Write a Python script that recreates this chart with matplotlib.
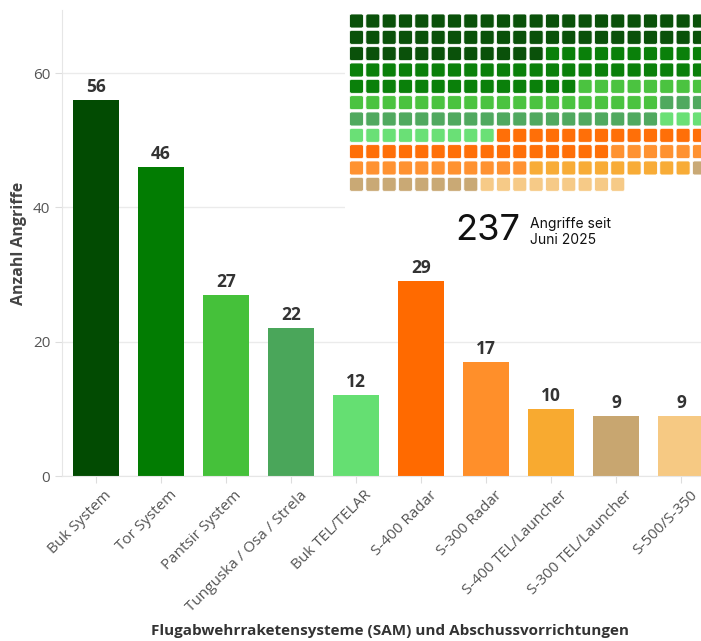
import matplotlib.pyplot as plt
from matplotlib.patches import FancyBboxPatch
from matplotlib import transforms

plt.rcParams['font.family'] = ['Open Sans', 'DejaVu Sans']

categories = [
    'Buk System', 'Tor System', 'Pantsir System', 'Tunguska / Osa / Strela',
    'Buk TEL/TELAR', 'S-400 Radar', 'S-300 Radar', 'S-400 TEL/Launcher',
    'S-300 TEL/Launcher', 'S-500/S-350',
]
counts = [56, 46, 27, 22, 12, 29, 17, 10, 9, 9]
colors = [
    '#024b02', '#027c02', '#45c13a', '#4aa65a', '#65df72',
    '#ff6a00', '#ff8f2a', '#f8aa30', '#c8a670', '#f6c983',
]
total_label = '237'
subtitle = 'Angriffe seit\nJuni 2025'
y_ticks = [0, 20, 40, 60]

W, H = 701, 641
fig = plt.figure(figsize=(W / 100, H / 100), dpi=100)

# main bar chart (extends a little past the right edge, like the source)
ax = fig.add_axes([62 / W, 165 / H, 653 / W, 466 / H])
x = list(range(len(categories)))
ax.bar(x, counts, width=0.71, color=colors, zorder=2)
for xi, v in zip(x, counts):
    ax.text(xi, v + 0.6, str(v), ha='center', va='bottom',
            fontsize=12.5, fontweight='bold', color='#333333')
ax.set_xlim(-0.52, 9.52)
ax.set_ylim(0, 69.4)
ax.set_yticks(y_ticks)
ax.grid(axis='y', color='#ebebeb', linewidth=1, zorder=0)
for s in ['top', 'right']:
    ax.spines[s].set_visible(False)
ax.spines['left'].set_color('#e6e6e6')
ax.spines['bottom'].set_color('#e6e6e6')
ax.tick_params(axis='both', colors='#dddddd', length=5, labelcolor='#555555',
               labelsize=11)
ax.set_xticks(x)
offset = transforms.ScaledTranslation(6 / 72, 0, fig.dpi_scale_trans)
ax.set_xticklabels(categories, rotation=45, ha='right', va='top',
                   rotation_mode='anchor', fontsize=11)
for lbl in ax.get_xticklabels():
    lbl.set_transform(lbl.get_transform() + offset)
ax.set_ylabel('Anzahl Angriffe', fontsize=11.5, fontweight='bold',
              color='#444444', labelpad=4)
fig.text(390 / W, 1 - 631 / H,
         'Flugabwehrraketensysteme (SAM) und Abschussvorrichtungen',
         ha='center', va='center', fontsize=11, fontweight='bold',
         color='#333333')

# waffle inset
wx, wy, ww, wh = 345, 0, 360, 256
wax = fig.add_axes([wx / W, 1 - (wy + wh) / H, ww / W, wh / H], zorder=5)
wax.set_facecolor('white')
wax.set_xlim(0, ww)
wax.set_ylim(wh, 0)
wax.axis('off')
wax.add_patch(plt.Rectangle((0, 0), ww, wh, color='white', zorder=0))
ncols = 22
step = 16.33
size = 14.0
idx = 0
for c, n in zip(colors, counts):
    for _ in range(n):
        r, k = divmod(idx, ncols)
        wax.add_patch(FancyBboxPatch(
            (4.5 + k * step, 14 + r * step), size, size,
            boxstyle='round,pad=0,rounding_size=2',
            facecolor=c, edgecolor='#ffffff', linewidth=0.6, alpha=0.97))
        idx += 1
wax.text(110, 231, total_label, ha='left', va='center', fontsize=26,
         family=['Inter', 'DejaVu Sans'], color='#111111')
wax.text(185, 232, subtitle, ha='left', va='center', fontsize=10,
         family=['Inter', 'DejaVu Sans'], color='#111111', linespacing=1.2)

fig.savefig('out.png', dpi=100)
plt.close()
